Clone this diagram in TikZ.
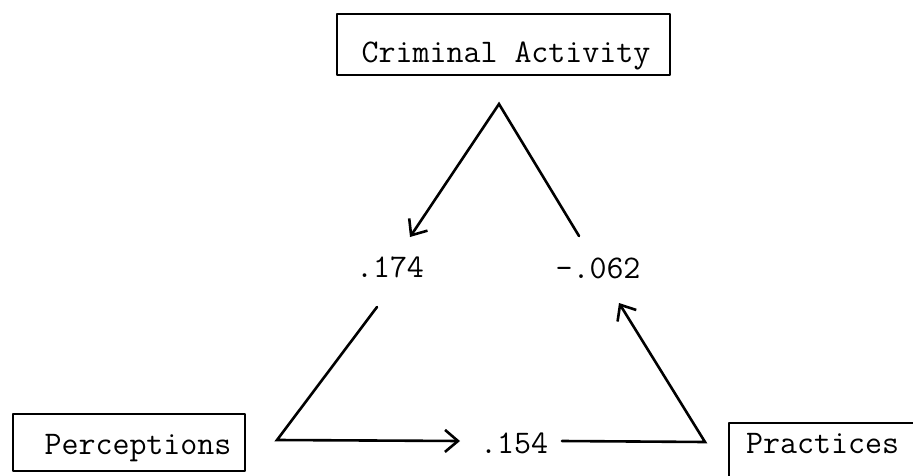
\documentclass[tikz,border=0pt]{standalone}
\usetikzlibrary{arrows.meta}
\begin{document}
\begin{tikzpicture}[x=1pt,y=-1pt,
  txt/.style={font=\ttfamily\fontsize{33}{40}\selectfont, inner sep=0pt, anchor=base},
  frame/.style={line width=2pt, line join=round},
  link/.style={line width=2.6pt, line join=miter, line cap=round},
  tip/.style={-{Straight Barb[length=13pt,width=22pt,line width=2.6pt]}}]
\useasboundingbox (0,0) rectangle (916,476);
% boxes
\draw[frame] (337,14) rectangle (670,75);
\node[txt] (crim) at (506,63) {Criminal Activity};
\draw[frame] (13,414) rectangle (245,471);
\node[txt] (perc) at (138,454) {Perceptions};
\draw[frame] (729,476) -- (729,423) -- (913,423);
\node[txt, anchor=base west] (prac) at (746,453) {Practices};
% coefficients
\node[txt] (c174) at (390,277) {.174};
\node[txt] (c062) at (598,278) {-.062};
\node[txt] (c154) at (514,453) {.154};
% connector points
\coordinate (apex) at (499,104);
\coordinate (atip) at (410,237);
\coordinate (rend) at (579,236);
\coordinate (ltop) at (377,307);
\coordinate (bl) at (277,440);
\coordinate (btip) at (460,441);
\coordinate (bstart) at (562,441);
\coordinate (br) at (705,442);
\coordinate (utip) at (619,303);
% connectors
\draw[link,tip] (rend) -- (apex) -- (atip);
\draw[link,tip] (ltop) -- (bl) -- (btip);
\draw[link,tip] (bstart) -- (br) -- (utip);
\end{tikzpicture}
\end{document}
